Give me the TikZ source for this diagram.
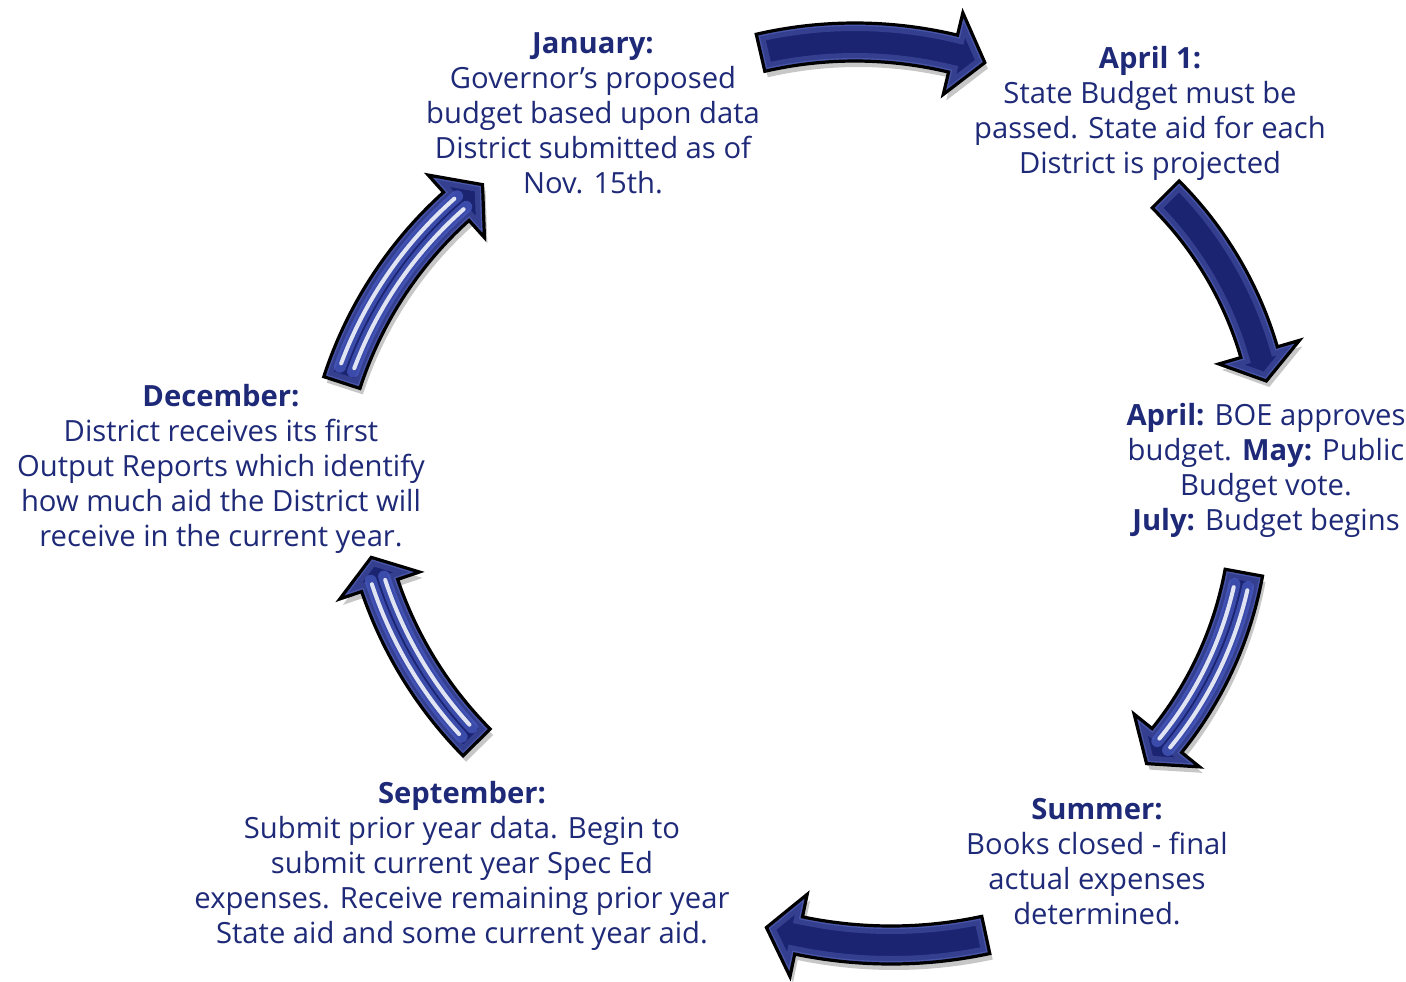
\documentclass[tikz,border=0pt]{standalone}
\usepackage{fontspec}
\setmainfont{Open Sans}
\definecolor{ink}{HTML}{1E2A78}
\definecolor{arrowfill}{HTML}{1B2470}
\definecolor{arrowlite}{HTML}{7080D8}
\definecolor{arrowglow}{HTML}{4A5CC4}

% outline of a curved block arrow: radius, tail angle, head-base angle, tip angle
\newcommand\arrowpath[4]{(#2:#1+19) arc[start angle=#2,end angle=#3,radius=#1+19]
  -- (#3:#1+42) -- (#4:#1) -- (#3:#1-42) -- (#3:#1-19)
  arc[start angle=#3,end angle=#2,radius=#1-19] -- cycle}

% plain glossy arrow: centre x, centre y, radius, angles
\newcommand\plainarrow[6]{%
  \begin{scope}[shift={(#1,#2)}]
    \fill[black,opacity=0.22,shift={(3,6)}] \arrowpath{#3}{#4}{#5}{#6};
    \fill[arrowfill] \arrowpath{#3}{#4}{#5}{#6};
    \begin{scope}
      \clip \arrowpath{#3}{#4}{#5}{#6};
      \draw[arrowlite,opacity=0.30,line width=8] \arrowpath{#3}{#4}{#5}{#6};
      \draw[arrowlite,opacity=0.35,line width=3] \arrowpath{#3}{#4}{#5}{#6};
    \end{scope}
    \draw[black,line width=1.6,line join=miter] \arrowpath{#3}{#4}{#5}{#6};
  \end{scope}}

% striped arrow: same as above plus two bright bands along the body
\newcommand\stripearrow[6]{%
  \plainarrow{#1}{#2}{#3}{#4}{#5}{#6}%
  \begin{scope}[shift={(#1,#2)}]
    \foreach \off in {-7,7}{
      \draw[arrowglow,opacity=0.7,line width=6,line cap=round]
        (#4+2:#3+\off) arc[start angle=#4+2,end angle=#5+1,radius=#3+\off];
      \draw[white,opacity=0.85,line width=2,line cap=round]
        (#4+2.5:#3+\off) arc[start angle=#4+2.5,end angle=#5+0.5,radius=#3+\off];
    }
  \end{scope}}

\tikzset{
  lbl/.style={text=ink,align=center,inner sep=0pt,
    font=\fontsize{14.6pt}{17.5pt}\selectfont}
}

\begin{document}
\begin{tikzpicture}[x=0.5pt,y=-0.5pt]
  \path[use as bounding box,fill=white] (0,0) rectangle (1406,981);

  % arrows around the cycle
  \plainarrow{855}{462}{420}{257}{283.5}{288}
  \plainarrow{904}{456}{370}{-45}{-16.3}{-11.7}
  \stripearrow{875}{505}{375}{10.4}{38.9}{43.6}
  \plainarrow{891}{493}{452}{77.9}{101.8}{106}
  \stripearrow{768}{454}{410}{135.3}{161.3}{165.4}
  \stripearrow{728}{508}{406}{198}{228}{232.8}

  % stage labels
  \node[lbl] (jan) at (593,113) {\textbf{January:}\\Governor’s proposed\\budget based upon data\\District submitted as of\\Nov. 15th.};
  \node[lbl] (apr1) at (1150,113) {\textbf{April 1:}\\State Budget must be\\passed. State aid for each\\District is projected};
  \node[lbl] (apr) at (1266,470) {\textbf{April:} BOE approves\\budget. \textbf{May:} Public\\Budget vote.\\\textbf{July:} Budget begins};
  \node[lbl] (sum) at (1097,862) {\textbf{Summer:}\\Books closed - final\\actual expenses\\determined.};
  \node[lbl] (sep) at (462,866) {\textbf{September:}\\Submit prior year data. Begin to\\submit current year Spec Ed\\expenses. Receive remaining prior year\\State aid and some current year aid.};
  \node[lbl] (dec) at (221,469) {\textbf{December:}\\District receives its first\\Output Reports which identify\\how much aid the District will\\receive in the current year.};
\end{tikzpicture}
\end{document}
